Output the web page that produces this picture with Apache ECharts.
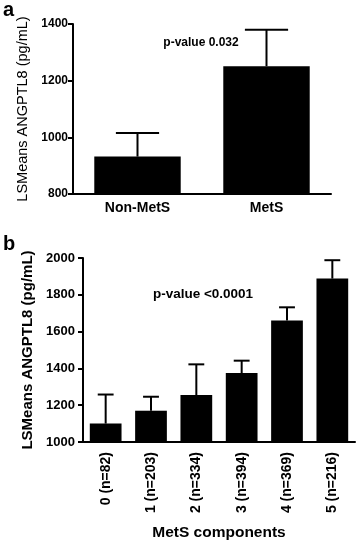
<!DOCTYPE html>
<html><head><meta charset="utf-8">
<script src="https://cdn.jsdelivr.net/npm/echarts@6/dist/echarts.min.js"></script>
<style>html,body{margin:0;padding:0;background:#fff}#c{width:359px;height:545px}</style>
</head><body><div id="c"></div>
<script>
// Panel a data
const catsA = ['Non-MetS', 'MetS'];
const meanA = [932, 1251];
const errTopA = [1015, 1380];
const ticksA = [800, 1000, 1200, 1400];
// Panel b data
const catsB = ['0 (n=82)', '1 (n=203)', '2 (n=334)', '3 (n=394)', '4 (n=369)', '5 (n=216)'];
const meanB = [1100, 1170, 1255, 1375, 1660, 1888];
const errTopB = [1258, 1246, 1422, 1442, 1732, 1988];
const ticksB = [1000, 1200, 1400, 1600, 1800, 2000];

const FONT = '"Liberation Sans", Arial, sans-serif';
const chart = echarts.init(document.getElementById('c'), null, {renderer: 'canvas'});

function errRender(barFrac) {
  return function (params, api) {
    const x = api.value(0), v = api.value(1), t = api.value(2);
    const p0 = api.coord([x, v]);
    const p1 = api.coord([x, t]);
    const band = api.size([1, 0])[0];
    const half = band * barFrac / 4;
    const st = {stroke: '#000', lineWidth: 2};
    return {type: 'group', children: [
      {type: 'line', shape: {x1: p0[0], y1: p0[1], x2: p1[0], y2: p1[1]}, style: st},
      {type: 'line', shape: {x1: p1[0] - half, y1: p1[1], x2: p1[0] + half, y2: p1[1]}, style: st}
    ]};
  };
}

const axisLine = {lineStyle: {color: '#000', width: 2}};
const axisTick = {lineStyle: {color: '#000', width: 2}, length: 5};

chart.setOption({
  animation: false,
  textStyle: {fontFamily: FONT},
  grid: [
    {left: 73, right: 28, top: 24, bottom: 351},
    {left: 83, right: 4, top: 258, bottom: 103}
  ],
  xAxis: [
    {gridIndex: 0, type: 'category', data: catsA, axisLine, axisTick: Object.assign({alignWithLabel: true}, axisTick),
     axisLabel: {color: '#000', fontWeight: 'bold', fontSize: 14, fontFamily: FONT, margin: 7}},
    {gridIndex: 1, type: 'category', data: catsB, axisLine, axisTick: Object.assign({alignWithLabel: true}, axisTick),
     axisLabel: {color: '#000', fontWeight: 'bold', fontSize: 14, fontFamily: FONT, rotate: 90, margin: 10},
     name: 'MetS components', nameLocation: 'middle', nameGap: 83,
     nameTextStyle: {color: '#000', fontWeight: 'bold', fontSize: 15.5, fontFamily: FONT}}
  ],
  yAxis: [
    {gridIndex: 0, type: 'value', min: 800, max: 1400, interval: 200, axisLine: Object.assign({show: true}, axisLine), axisTick: Object.assign({show: true}, axisTick),
     splitLine: {show: false},
     axisLabel: {color: '#000', fontWeight: 'bold', fontSize: 12, fontFamily: FONT, margin: 5,
       formatter: v => ticksA.includes(v) ? String(v) : ''},
     name: 'LSMeans ANGPTL8 (pg/mL)', nameLocation: 'middle', nameGap: 39,
     nameTextStyle: {color: '#000', fontSize: 14.5, fontFamily: FONT}},
    {gridIndex: 1, type: 'value', min: 1000, max: 2000, interval: 200, axisLine: Object.assign({show: true}, axisLine), axisTick: Object.assign({show: true}, axisTick),
     splitLine: {show: false},
     axisLabel: {color: '#000', fontWeight: 'bold', fontSize: 13, fontFamily: FONT, margin: 8,
       formatter: v => ticksB.includes(v) ? String(v) : ''},
     name: 'LSMeans ANGPTL8 (pg/mL)', nameLocation: 'middle', nameGap: 45,
     nameTextStyle: {color: '#000', fontWeight: 'bold', fontSize: 15, fontFamily: FONT}}
  ],
  series: [
    {type: 'bar', xAxisIndex: 0, yAxisIndex: 0, data: meanA, barWidth: '67%', itemStyle: {color: '#000'}},
    {type: 'custom', xAxisIndex: 0, yAxisIndex: 0, renderItem: errRender(0.67),
     data: catsA.map((c, i) => [i, meanA[i], errTopA[i]]), z: 3},
    {type: 'bar', xAxisIndex: 1, yAxisIndex: 1, data: meanB, barWidth: '70%', itemStyle: {color: '#000'}},
    {type: 'custom', xAxisIndex: 1, yAxisIndex: 1, renderItem: errRender(0.7),
     data: catsB.map((c, i) => [i, meanB[i], errTopB[i]]), z: 3}
  ],
  graphic: [
    {type: 'text', left: 3, top: 0, style: {text: 'a', font: 'bold 20px ' + FONT, fill: '#000'}},
    {type: 'text', left: 3, top: 234, style: {text: 'b', font: 'bold 20px ' + FONT, fill: '#000'}},
    {type: 'text', x: 201, y: 43, style: {text: 'p-value 0.032', font: 'bold 12px ' + FONT, fill: '#000', align: 'center', verticalAlign: 'middle'}},
    {type: 'text', x: 203, y: 294, style: {text: 'p-value <0.0001', font: 'bold 13.5px ' + FONT, fill: '#000', align: 'center', verticalAlign: 'middle'}}
  ]
});
</script></body></html>
